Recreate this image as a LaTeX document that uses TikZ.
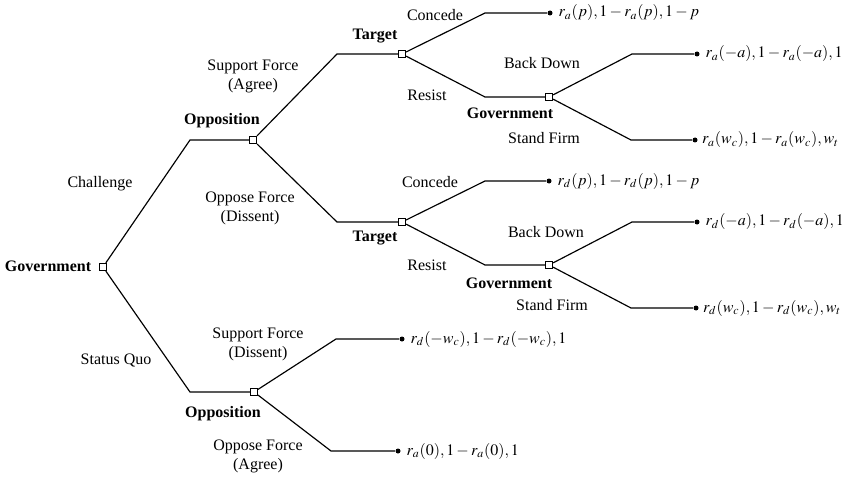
\documentclass[tikz,border=0pt]{standalone}
\usepackage{mathptmx}
\usepackage[no-math]{fontspec}
\setmainfont{Liberation Serif}
\usetikzlibrary{positioning}
\tikzset{move/.style={draw,fill=white,minimum size=4.2pt,inner sep=0pt},
         end/.style={circle,fill,inner sep=0pt,minimum size=3pt},
         player/.style={font=\fontsize{9.6}{11.4}\selectfont\bfseries},
         act/.style={align=center,inner sep=0pt,font=\fontsize{9.6}{11.4}\selectfont},
         pay/.style={inner sep=0pt,font=\fontsize{9.6}{11.4}\selectfont}}

\begin{document}
\begin{tikzpicture}[x=0.6pt,y=-0.6pt,line width=0.7pt]
        \useasboundingbox (0,0) rectangle (846,478);

        % decision nodes
        \node[move](g0)at(103,267){};
        \node[move](o1)at(253,140){};
        \node[move](o2)at(254,392){};
        \node[move](t1)at(402,54){};
        \node[move](t2)at(402,222){};
        \node[move](g1)at(549,97){};
        \node[move](g2)at(549,265){};

        % elbows
        \coordinate(a1)at(190,140);
        \coordinate(a2)at(190,392);
        \coordinate(b1)at(337,54);
        \coordinate(b2)at(337,222);
        \coordinate(c1)at(485,13);
        \coordinate(c2)at(485,97);
        \coordinate(c3)at(632,54);
        \coordinate(c4)at(631,140);
        \coordinate(c5)at(485,181);
        \coordinate(c6)at(485,265);
        \coordinate(c7)at(632,222);
        \coordinate(c8)at(631,308);
        \coordinate(c9)at(336,339);
        \coordinate(c10)at(331,451);

        % outcomes
        \node[end](e1)at(550,13){};
        \node[end](e2)at(697,54){};
        \node[end](e3)at(695,140){};
        \node[end](e4)at(549,181){};
        \node[end](e5)at(697,222){};
        \node[end](e6)at(696,308){};
        \node[end](e7)at(402,339){};
        \node[end](e8)at(398,451){};

        \draw(g0)--(a1)--(o1);
        \draw(g0)--(a2)--(o2);
        \draw(o1)--(b1)--(t1);
        \draw(o1)--(b2)--(t2);
        \draw(t1)--(c1)--(e1);
        \draw(t1)--(c2)--(g1);
        \draw(g1)--(c3)--(e2);
        \draw(g1)--(c4)--(e3);
        \draw(t2)--(c5)--(e4);
        \draw(t2)--(c6)--(g2);
        \draw(g2)--(c7)--(e5);
        \draw(g2)--(c8)--(e6);
        \draw(o2)--(c9)--(e7);
        \draw(o2)--(c10)--(e8);

        % players
        \node[player](pg0)at(48,266){Government};
        \node[player](po1)at(222,121){Opposition};
        \node[player](po2)at(223,414){Opposition};
        \node[player](pt1)at(375,36){Target};
        \node[player](pt2)at(375,238){Target};
        \node[player](pg1)at(510,113){Government};
        \node[player](pg2)at(509,283){Government};

        % actions
        \node[act](l1)at(100,184){Challenge};
        \node[act](l2)at(116,360){Status Quo};
        \node[act](l3)at(253,76){Support Force\\(Agree)};
        \node[act](l4)at(250,208){Oppose Force\\(Dissent)};
        \node[act](l5)at(435,15){Concede};
        \node[act](l6)at(427,95){Resist};
        \node[act](l7)at(542,63){Back Down};
        \node[act](l8)at(544,138){Stand Firm};
        \node[act](l9)at(430,182){Concede};
        \node[act](l10)at(427,265){Resist};
        \node[act](l11)at(546,232){Back Down};
        \node[act](l12)at(552,305){Stand Firm};
        \node[act](l13)at(258,344){Support Force\\(Dissent)};
        \node[act](l14)at(258,456){Oppose Force\\(Agree)};

        % payoffs
        \node[pay,right=3pt of e1]{$r_a(p), 1-r_a(p), 1-p$};
        \node[pay,right=3pt of e2]{$r_a(-a), 1-r_a(-a), 1$};
        \node[pay,right=2pt of e3]{$r_a(w_c), 1-r_a(w_c), w_t$};
        \node[pay,right=3pt of e4]{$r_d(p), 1-r_d(p), 1-p$};
        \node[pay,right=3pt of e5]{$r_d(-a), 1-r_d(-a), 1$};
        \node[pay,right=2pt of e6]{$r_d(w_c), 1-r_d(w_c), w_t$};
        \node[pay,right=3pt of e7]{$r_d(-w_c), 1-r_d(-w_c), 1$};
        \node[pay,right=3pt of e8]{$r_a(0), 1-r_a(0), 1$};
    \end{tikzpicture}
\end{document}
